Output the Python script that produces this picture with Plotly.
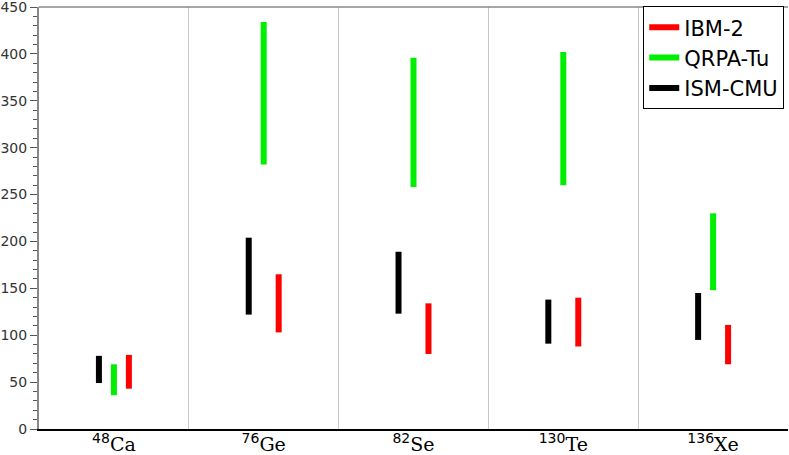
import plotly.graph_objects as go

# nuclei on the x axis
isotopes = ["48", "76", "82", "130", "136"]
elements = ["Ca", "Ge", "Se", "Te", "Xe"]

# NME ranges (low, high)
ibm2_low = [43, 103, 80, 88, 69]
ibm2_high = [79, 165, 134, 140, 111]
qrpa_low = [36, 282, 258, 260, 148]
qrpa_high = [69, 434, 396, 402, 230]
ism_low = [49, 122, 123, 91, 95]
ism_high = [78, 204, 189, 138, 145]

series = [
    ("IBM-2", ibm2_low, ibm2_high, "#ff0000", 0.1),
    ("QRPA-Tu", qrpa_low, qrpa_high, "#00ee00", 0.0),
    ("ISM-CMU", ism_low, ism_high, "#000000", -0.1),
]


def range_segments(low, high, shift):
    # one vertical segment per nucleus, separated by None
    xs, ys = [], []
    for i, (lo, hi) in enumerate(zip(low, high)):
        xs += [i + shift, i + shift, None]
        ys += [lo, hi, None]
    return xs, ys


fig = go.Figure()
for name, low, high, color, shift in series:
    xs, ys = range_segments(low, high, shift)
    fig.add_trace(go.Scatter(x=xs, y=ys, mode="lines", name=name,
                             line=dict(color=color, width=6)))

ticktext = [
    f"<sup><span style='font-family:DejaVu Sans;font-size:14px'>{a}</span></sup>{e}"
    for a, e in zip(isotopes, elements)
]

fig.update_layout(
    width=789, height=455,
    margin=dict(l=39, r=1, t=7, b=26),
    plot_bgcolor="white", paper_bgcolor="white",
    font=dict(family="DejaVu Sans", size=14, color="#333333"),
    showlegend=True,
    legend=dict(x=0.995, xanchor="right", y=1.002, yanchor="top",
                bgcolor="white", bordercolor="black", borderwidth=1,
                font=dict(family="DejaVu Sans", size=21, color="black"),
                tracegroupgap=0, itemwidth=30),
    xaxis=dict(range=[-0.5, 4.5], tickvals=list(range(5)), ticktext=ticktext,
               tickfont=dict(family="DejaVu Serif", size=19, color="black"),
               showgrid=False, zeroline=False, ticks="", automargin=False,
               ticklabelstandoff=-3,
               showline=True, linecolor="black", linewidth=1.5,
               minor=dict(tick0=0.5, dtick=1, showgrid=True,
                          gridcolor="#c8c8c8", gridwidth=1)),
    yaxis=dict(range=[0, 450.01], dtick=50, showgrid=False, zeroline=False,
               automargin=False, ticklabeloverflow="allow",
               showline=True, linecolor="#888888", linewidth=2,
               ticks="outside", ticklen=7, tickcolor="#555555",
               minor=dict(dtick=10, ticks="outside", ticklen=4,
                          tickcolor="#555555")),
    yaxis2=dict(range=[0, 450.01], dtick=50, overlaying="y", side="right",
                showgrid=False, zeroline=False, showticklabels=False,
                automargin=False,
                showline=True, linecolor="#888888", linewidth=1,
                ticks="inside", ticklen=7, tickcolor="#555555",
                minor=dict(dtick=10, ticks="inside", ticklen=4,
                           tickcolor="#555555")),
)

# top border of the frame
fig.add_shape(type="line", xref="paper", yref="paper", x0=0, x1=1, y0=1, y1=1,
              line=dict(color="#888888", width=1.5))

# drop the page's default body margin so the figure fills the window
fig.write_html("out.html", config={"displayModeBar": False},
               post_script="document.body.style.margin='0';")
